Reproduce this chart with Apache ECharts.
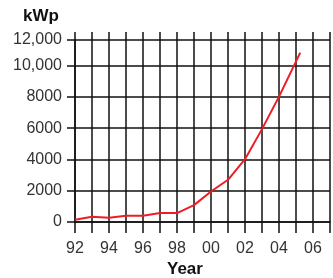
<!DOCTYPE html>
<html>
<head>
<meta charset="utf-8">
<script src="https://cdn.jsdelivr.net/npm/echarts@6/dist/echarts.min.js"></script>
<style>
  html, body { margin: 0; padding: 0; background: #fff; }
  #chart { width: 333px; height: 278px; }
</style>
</head>
<body>
<div id="chart"></div>
<script>
// data
var years = [1992, 1993, 1994, 1995, 1996, 1997, 1998, 1999, 2000, 2001, 2002, 2003, 2004, 2005.25];
var kwp = [140, 330, 270, 400, 400, 570, 570, 1080, 1950, 2700, 4020, 5940, 8020, 10830];
var xTickLabels = ['92', '94', '96', '98', '00', '02', '04', '06'];
var yTickLabels = ['0', '2000', '4000', '6000', '8000', '10,000', '12,000'];

var points = [];
for (var i = 0; i < years.length; i++) {
    points.push([years[i], kwp[i]]);
}

var lineColor = '#111';
var labelFont = 'Liberation Sans';

var chart = echarts.init(document.getElementById('chart'));
var option = {
    animation: false,
    grid: {
        left: 75,
        right: -1,
        top: 40,
        bottom: 56
    },
    xAxis: [{
        type: 'value',
        min: 1992,
        max: 2007,
        interval: 1,
        axisLine: { show: true, lineStyle: { color: lineColor, width: 1.5 } },
        axisTick: { show: true, length: 11, lineStyle: { color: lineColor, width: 1.5 } },
        splitLine: { show: true, lineStyle: { color: lineColor, width: 1.5 } },
        axisLabel: {
            margin: 19,
            color: '#333',
            fontSize: 16,
            fontFamily: labelFont,
            formatter: function (v) {
                var k = Math.round(v - 1992);
                return k % 2 === 0 && xTickLabels[k / 2] ? xTickLabels[k / 2] : '';
            }
        }
    }, {
        type: 'value',
        position: 'top',
        min: 1992,
        max: 2007,
        interval: 1,
        axisLine: { show: false },
        axisTick: { show: true, length: 8, lineStyle: { color: lineColor, width: 1.5 } },
        splitLine: { show: false },
        axisLabel: { show: false }
    }],
    yAxis: {
        type: 'value',
        min: 0,
        max: 11640,
        interval: 2000,
        axisLine: { show: true, lineStyle: { color: lineColor, width: 1.5 } },
        axisTick: { show: true, length: 8, lineStyle: { color: lineColor, width: 1.5 } },
        splitLine: { show: true, lineStyle: { color: lineColor, width: 1.5 } },
        axisLabel: {
            margin: 13,
            color: '#333',
            fontSize: 16,
            fontFamily: labelFont,
            showMaxLabel: true,
            formatter: function (v) {
                return yTickLabels[Math.min(6, Math.round(v / 2000))];
            }
        }
    },
    graphic: [{
        type: 'text',
        left: 23,
        top: 8,
        style: { text: 'kWp', font: 'bold 17px "Liberation Sans"', fill: '#111' }
    }, {
        type: 'text',
        left: 167,
        top: 261,
        style: { text: 'Year', font: 'bold 17px "Liberation Sans"', fill: '#111' }
    }],
    series: [{
        type: 'line',
        data: points,
        symbol: 'none',
        lineStyle: { color: '#ee1c25', width: 2 }
    }]
};
chart.setOption(option);
</script>
</body>
</html>
